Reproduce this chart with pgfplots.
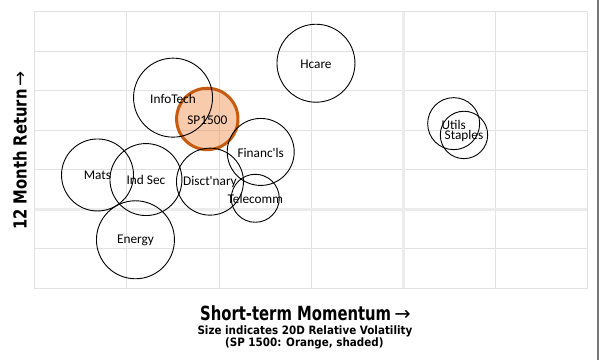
\documentclass[border=0pt]{standalone}
\usepackage{pgfplots}
\pgfplotsset{compat=1.18}
\usepackage{pgfplotstable}
\usepackage{fontspec}
\setmainfont{Carlito}[Ligatures=TeXOff]
\newfontfamily\titlefont[FakeStretch=0.76]{DejaVu Sans}
\newfontfamily\ytitlefont[FakeStretch=0.82]{DejaVu Sans}
\newfontfamily\subfont[FakeStretch=0.9]{DejaVu Sans}
\newfontfamily\arrowfont{DejaVu Sans}
\newcommand\labfont{\fontsize{13.3bp}{14bp}\selectfont}
\definecolor{gridc}{RGB}{226,226,226}
\definecolor{zeroc}{RGB}{236,236,236}
\definecolor{spborder}{RGB}{197,90,17}
\definecolor{spfill}{RGB}{237,125,49}
\definecolor{edgegray}{RGB}{120,120,120}

\pgfplotstableread[col sep=comma]{
x,y,r,label
-2.498,2.825,39.5,InfoTech
-1.546,1.451,33.5,Financ'ls
-0.946,3.696,39,Hcare
0.549,2.167,26,Utils
0.661,1.881,23.7,Staples
-3.318,0.868,36,Mats
-2.792,0.752,36,Ind Sec
-2.097,0.699,33.5,Disct'nary
-1.605,0.278,24,Telecomm
-2.906,-0.772,39,Energy
}\sectors

\pgfplotstableread[col sep=comma]{
x,y,r,label
-2.126,2.286,30.7,SP1500
}\spx

\begin{document}
\begin{tikzpicture}
\useasboundingbox (0,0) rectangle (601bp,360bp);
\begin{axis}[
  at={(34.7bp,71.7bp)}, anchor=south west,
  scale only axis, width=552.6bp, height=276.6bp,
  xmin=-4, xmax=2, ymin=-2, ymax=5,
  xtick={-4,...,2}, ytick={-2,...,5},
  xticklabel={\relax}, yticklabel={\relax},
  extra x tick label={\relax}, extra y tick label={\relax},
  major tick length=0pt,
  grid=major, grid style={draw=gridc, line width=0.8bp},
  axis line style={draw=gridc, line width=0.8bp},
  extra x ticks={0}, extra y ticks={0},
  extra tick style={grid=major, grid style={draw=zeroc, line width=3bp}, major tick length=0pt},
  xlabel={\titlefont\bfseries\fontsize{19.5bp}{20bp}\selectfont Short-term Momentum\,{\arrowfont\mdseries →}},
  xlabel style={at={(axis description cs:0.49,-0.1171)}, anchor=base, inner sep=0pt},
  ylabel={\ytitlefont\bfseries\fontsize{18bp}{20bp}\selectfont 12 Month Return\,{\arrowfont\mdseries →}},
  ylabel style={at={(axis description cs:-0.01448,0.498)}, anchor=base, inner sep=0pt},
  point meta min=0, point meta max=1000,
]
% SP 1500 bubble (radius in bp = relative volatility size)
\addplot[scatter, only marks, mark=*,
  point meta=explicit,
  scatter/use mapped color={draw=spborder, fill=spfill},
  mark options={line width=3bp, fill opacity=0.4},
  scatter/@pre marker code/.append style={/tikz/mark size={\pgfplotspointmetatransformed*1bp}}]
  table[x=x, y=y, meta=r] {\spx};
% sector bubbles
\addplot[scatter, only marks, mark=o,
  point meta=explicit,
  scatter/use mapped color={draw=black},
  mark options={line width=0.9bp},
  scatter/@pre marker code/.append style={/tikz/mark size={\pgfplotspointmetatransformed*1bp}}]
  table[x=x, y=y, meta=r] {\sectors};
% labels
\addplot[draw=none, mark=none, point meta=explicit symbolic,
  nodes near coords,
  every node near coord/.append style={anchor=center, font=\labfont, text=black, inner sep=0pt, yshift=-0.8bp}]
  table[x=x, y=y, meta=label] {\spx};
\addplot[draw=none, mark=none, point meta=explicit symbolic,
  nodes near coords,
  every node near coord/.append style={anchor=center, font=\labfont, text=black, inner sep=0pt, yshift=-0.8bp}]
  table[x=x, y=y, meta=label] {\sectors};
\end{axis}
\node[anchor=base, inner sep=0pt] at (304.9bp,25.7bp) {\subfont\bfseries\fontsize{11.5bp}{12bp}\selectfont Size indicates 20D Relative Volatility};
\node[anchor=base, inner sep=0pt] at (304.3bp,13.3bp) {\subfont\bfseries\fontsize{11.5bp}{12bp}\selectfont (SP 1500: Orange, shaded)};
\draw[draw=edgegray, line width=2bp] (598bp,0) -- (598bp,360bp);
\end{tikzpicture}
\end{document}
